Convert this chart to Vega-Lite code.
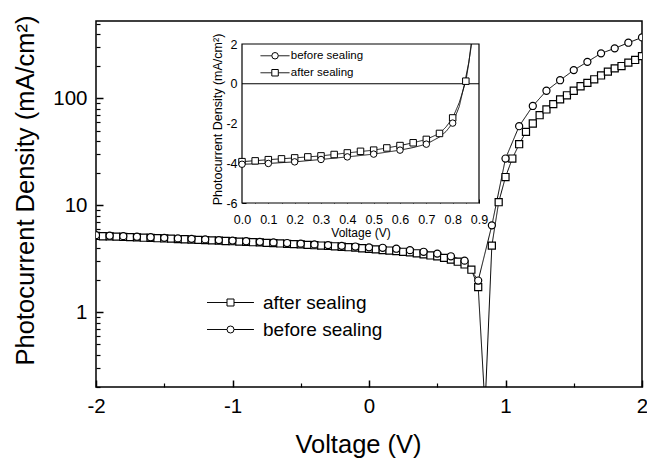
{
 "$schema": "https://vega.github.io/schema/vega-lite/v6.json",
 "width": 546,
 "height": 366,
 "autosize": {"type": "none"},
 "padding": {"left": 96, "top": 21, "right": 5, "bottom": 75},
 "background": "white",
 "config": {
  "font": "Liberation Sans",
  "view": {"stroke": "black", "strokeWidth": 1.5},
  "axis": {"grid": false, "domain": false, "tickColor": "black", "labelColor": "black", "titleColor": "black", "titleFontWeight": "normal", "labelFlush": false, "labelOverlap": false, "labelFont": "Liberation Sans", "titleFont": "Liberation Sans"},
  "legend": {"labelFont": "Liberation Sans", "labelColor": "black", "padding": 0}
 },
 "datasets": {
  "main": [
   {"V": -2.00, "J": 5.17, "series": "after sealing"},
   {"V": -1.95, "J": 5.14, "series": "after sealing"},
   {"V": -1.90, "J": 5.12, "series": "after sealing"},
   {"V": -1.85, "J": 5.10, "series": "after sealing"},
   {"V": -1.80, "J": 5.06, "series": "after sealing"},
   {"V": -1.75, "J": 5.04, "series": "after sealing"},
   {"V": -1.70, "J": 5.02, "series": "after sealing"},
   {"V": -1.65, "J": 4.98, "series": "after sealing"},
   {"V": -1.60, "J": 4.96, "series": "after sealing"},
   {"V": -1.55, "J": 4.93, "series": "after sealing"},
   {"V": -1.50, "J": 4.90, "series": "after sealing"},
   {"V": -1.45, "J": 4.88, "series": "after sealing"},
   {"V": -1.40, "J": 4.84, "series": "after sealing"},
   {"V": -1.35, "J": 4.82, "series": "after sealing"},
   {"V": -1.30, "J": 4.78, "series": "after sealing"},
   {"V": -1.25, "J": 4.76, "series": "after sealing"},
   {"V": -1.20, "J": 4.73, "series": "after sealing"},
   {"V": -1.15, "J": 4.70, "series": "after sealing"},
   {"V": -1.10, "J": 4.68, "series": "after sealing"},
   {"V": -1.05, "J": 4.64, "series": "after sealing"},
   {"V": -1.00, "J": 4.62, "series": "after sealing"},
   {"V": -0.95, "J": 4.58, "series": "after sealing"},
   {"V": -0.90, "J": 4.56, "series": "after sealing"},
   {"V": -0.85, "J": 4.52, "series": "after sealing"},
   {"V": -0.80, "J": 4.50, "series": "after sealing"},
   {"V": -0.75, "J": 4.46, "series": "after sealing"},
   {"V": -0.70, "J": 4.44, "series": "after sealing"},
   {"V": -0.65, "J": 4.40, "series": "after sealing"},
   {"V": -0.60, "J": 4.37, "series": "after sealing"},
   {"V": -0.55, "J": 4.34, "series": "after sealing"},
   {"V": -0.50, "J": 4.31, "series": "after sealing"},
   {"V": -0.45, "J": 4.27, "series": "after sealing"},
   {"V": -0.40, "J": 4.24, "series": "after sealing"},
   {"V": -0.35, "J": 4.21, "series": "after sealing"},
   {"V": -0.30, "J": 4.17, "series": "after sealing"},
   {"V": -0.25, "J": 4.14, "series": "after sealing"},
   {"V": -0.20, "J": 4.10, "series": "after sealing"},
   {"V": -0.15, "J": 4.06, "series": "after sealing"},
   {"V": -0.10, "J": 4.02, "series": "after sealing"},
   {"V": -0.05, "J": 3.97, "series": "after sealing"},
   {"V": 0.00, "J": 3.92, "series": "after sealing"},
   {"V": 0.05, "J": 3.88, "series": "after sealing"},
   {"V": 0.10, "J": 3.82, "series": "after sealing"},
   {"V": 0.15, "J": 3.78, "series": "after sealing"},
   {"V": 0.20, "J": 3.73, "series": "after sealing"},
   {"V": 0.25, "J": 3.68, "series": "after sealing"},
   {"V": 0.30, "J": 3.63, "series": "after sealing"},
   {"V": 0.35, "J": 3.56, "series": "after sealing"},
   {"V": 0.40, "J": 3.48, "series": "after sealing"},
   {"V": 0.45, "J": 3.40, "series": "after sealing"},
   {"V": 0.50, "J": 3.34, "series": "after sealing"},
   {"V": 0.55, "J": 3.23, "series": "after sealing"},
   {"V": 0.60, "J": 3.11, "series": "after sealing"},
   {"V": 0.65, "J": 2.97, "series": "after sealing"},
   {"V": 0.70, "J": 2.80, "series": "after sealing"},
   {"V": 0.75, "J": 2.50, "series": "after sealing"},
   {"V": 0.80, "J": 1.72, "series": "after sealing"},
   {"V": 0.85, "J": 0.13, "series": "after sealing"},
   {"V": 0.90, "J": 4.2, "series": "after sealing"},
   {"V": 0.95, "J": 10.7, "series": "after sealing"},
   {"V": 1.00, "J": 18.4, "series": "after sealing"},
   {"V": 1.05, "J": 27.4, "series": "after sealing"},
   {"V": 1.10, "J": 37.3, "series": "after sealing"},
   {"V": 1.15, "J": 48.7, "series": "after sealing"},
   {"V": 1.20, "J": 58.3, "series": "after sealing"},
   {"V": 1.25, "J": 69.7, "series": "after sealing"},
   {"V": 1.30, "J": 78.9, "series": "after sealing"},
   {"V": 1.35, "J": 88.5, "series": "after sealing"},
   {"V": 1.40, "J": 97.9, "series": "after sealing"},
   {"V": 1.45, "J": 107, "series": "after sealing"},
   {"V": 1.50, "J": 118, "series": "after sealing"},
   {"V": 1.55, "J": 130, "series": "after sealing"},
   {"V": 1.60, "J": 140, "series": "after sealing"},
   {"V": 1.65, "J": 151, "series": "after sealing"},
   {"V": 1.70, "J": 164, "series": "after sealing"},
   {"V": 1.75, "J": 178, "series": "after sealing"},
   {"V": 1.80, "J": 191, "series": "after sealing"},
   {"V": 1.85, "J": 201, "series": "after sealing"},
   {"V": 1.90, "J": 216, "series": "after sealing"},
   {"V": 1.95, "J": 229, "series": "after sealing"},
   {"V": 2.00, "J": 249, "series": "after sealing"},
   {"V": -2.0, "J": 5.26, "series": "before sealing"},
   {"V": -1.9, "J": 5.20, "series": "before sealing"},
   {"V": -1.8, "J": 5.15, "series": "before sealing"},
   {"V": -1.7, "J": 5.09, "series": "before sealing"},
   {"V": -1.6, "J": 5.03, "series": "before sealing"},
   {"V": -1.5, "J": 4.97, "series": "before sealing"},
   {"V": -1.4, "J": 4.91, "series": "before sealing"},
   {"V": -1.3, "J": 4.86, "series": "before sealing"},
   {"V": -1.2, "J": 4.80, "series": "before sealing"},
   {"V": -1.1, "J": 4.73, "series": "before sealing"},
   {"V": -1.0, "J": 4.68, "series": "before sealing"},
   {"V": -0.9, "J": 4.62, "series": "before sealing"},
   {"V": -0.8, "J": 4.56, "series": "before sealing"},
   {"V": -0.7, "J": 4.50, "series": "before sealing"},
   {"V": -0.6, "J": 4.44, "series": "before sealing"},
   {"V": -0.5, "J": 4.38, "series": "before sealing"},
   {"V": -0.4, "J": 4.31, "series": "before sealing"},
   {"V": -0.3, "J": 4.25, "series": "before sealing"},
   {"V": -0.2, "J": 4.18, "series": "before sealing"},
   {"V": -0.1, "J": 4.12, "series": "before sealing"},
   {"V": 0.0, "J": 4.05, "series": "before sealing"},
   {"V": 0.1, "J": 4.01, "series": "before sealing"},
   {"V": 0.2, "J": 3.93, "series": "before sealing"},
   {"V": 0.3, "J": 3.81, "series": "before sealing"},
   {"V": 0.4, "J": 3.68, "series": "before sealing"},
   {"V": 0.5, "J": 3.54, "series": "before sealing"},
   {"V": 0.6, "J": 3.34, "series": "before sealing"},
   {"V": 0.7, "J": 3.04, "series": "before sealing"},
   {"V": 0.8, "J": 1.98, "series": "before sealing"},
   {"V": 0.9, "J": 6.5, "series": "before sealing"},
   {"V": 1.0, "J": 27.4, "series": "before sealing"},
   {"V": 1.1, "J": 55, "series": "before sealing"},
   {"V": 1.2, "J": 85, "series": "before sealing"},
   {"V": 1.3, "J": 118, "series": "before sealing"},
   {"V": 1.4, "J": 148, "series": "before sealing"},
   {"V": 1.5, "J": 184, "series": "before sealing"},
   {"V": 1.6, "J": 220, "series": "before sealing"},
   {"V": 1.7, "J": 264, "series": "before sealing"},
   {"V": 1.8, "J": 294, "series": "before sealing"},
   {"V": 1.9, "J": 332, "series": "before sealing"},
   {"V": 2.0, "J": 372, "series": "before sealing"}
  ],
  "insetPoints": [
   {"V": 0.00, "J": -3.92, "series": "after sealing"},
   {"V": 0.05, "J": -3.88, "series": "after sealing"},
   {"V": 0.10, "J": -3.82, "series": "after sealing"},
   {"V": 0.15, "J": -3.78, "series": "after sealing"},
   {"V": 0.20, "J": -3.73, "series": "after sealing"},
   {"V": 0.25, "J": -3.68, "series": "after sealing"},
   {"V": 0.30, "J": -3.63, "series": "after sealing"},
   {"V": 0.35, "J": -3.56, "series": "after sealing"},
   {"V": 0.40, "J": -3.48, "series": "after sealing"},
   {"V": 0.45, "J": -3.40, "series": "after sealing"},
   {"V": 0.50, "J": -3.34, "series": "after sealing"},
   {"V": 0.55, "J": -3.23, "series": "after sealing"},
   {"V": 0.60, "J": -3.11, "series": "after sealing"},
   {"V": 0.65, "J": -2.97, "series": "after sealing"},
   {"V": 0.70, "J": -2.80, "series": "after sealing"},
   {"V": 0.75, "J": -2.50, "series": "after sealing"},
   {"V": 0.80, "J": -1.72, "series": "after sealing"},
   {"V": 0.85, "J": 0.13, "series": "after sealing"},
   {"V": 0.0, "J": -4.05, "series": "before sealing"},
   {"V": 0.1, "J": -4.01, "series": "before sealing"},
   {"V": 0.2, "J": -3.93, "series": "before sealing"},
   {"V": 0.3, "J": -3.81, "series": "before sealing"},
   {"V": 0.4, "J": -3.68, "series": "before sealing"},
   {"V": 0.5, "J": -3.54, "series": "before sealing"},
   {"V": 0.6, "J": -3.34, "series": "before sealing"},
   {"V": 0.7, "J": -3.04, "series": "before sealing"},
   {"V": 0.8, "J": -1.98, "series": "before sealing"}
  ],
  "insetLine": [
   {"V": 0.00, "J": -3.92, "series": "after sealing"},
   {"V": 0.10, "J": -3.82, "series": "after sealing"},
   {"V": 0.20, "J": -3.73, "series": "after sealing"},
   {"V": 0.30, "J": -3.63, "series": "after sealing"},
   {"V": 0.40, "J": -3.48, "series": "after sealing"},
   {"V": 0.50, "J": -3.34, "series": "after sealing"},
   {"V": 0.55, "J": -3.23, "series": "after sealing"},
   {"V": 0.60, "J": -3.11, "series": "after sealing"},
   {"V": 0.65, "J": -2.97, "series": "after sealing"},
   {"V": 0.70, "J": -2.80, "series": "after sealing"},
   {"V": 0.75, "J": -2.50, "series": "after sealing"},
   {"V": 0.775, "J": -2.17, "series": "after sealing"},
   {"V": 0.80, "J": -1.72, "series": "after sealing"},
   {"V": 0.825, "J": -0.95, "series": "after sealing"},
   {"V": 0.85, "J": 0.13, "series": "after sealing"},
   {"V": 0.862, "J": 1.1, "series": "after sealing"},
   {"V": 0.870, "J": 2.0, "series": "after sealing"},
   {"V": 0.0, "J": -4.05, "series": "before sealing"},
   {"V": 0.1, "J": -4.01, "series": "before sealing"},
   {"V": 0.2, "J": -3.93, "series": "before sealing"},
   {"V": 0.3, "J": -3.81, "series": "before sealing"},
   {"V": 0.4, "J": -3.68, "series": "before sealing"},
   {"V": 0.5, "J": -3.54, "series": "before sealing"},
   {"V": 0.6, "J": -3.34, "series": "before sealing"},
   {"V": 0.65, "J": -3.21, "series": "before sealing"},
   {"V": 0.7, "J": -3.04, "series": "before sealing"},
   {"V": 0.75, "J": -2.68, "series": "before sealing"},
   {"V": 0.775, "J": -2.40, "series": "before sealing"},
   {"V": 0.8, "J": -1.98, "series": "before sealing"},
   {"V": 0.825, "J": -1.15, "series": "before sealing"},
   {"V": 0.845, "J": 0.0, "series": "before sealing"},
   {"V": 0.860, "J": 1.0, "series": "before sealing"},
   {"V": 0.872, "J": 2.0, "series": "before sealing"}
  ],
  "insetFrame": [{"Vmin": 0, "Vmax": 0.9, "Jmin": -6, "Jmax": 2}],
  "insetZero": [{"Vmin": 0, "Vmax": 0.9, "J": 0}]
 },
 "layer": [
  {
   "data": {"name": "main"},
   "layer": [
    {
     "mark": {"type": "line", "color": "black", "strokeWidth": 1, "clip": true},
     "encoding": {
      "x": {"field": "V", "type": "quantitative", "scale": {"domain": [-2, 2], "nice": false, "zero": false},
            "axis": {"orient": "bottom", "values": [-2, -1, 0, 1, 2], "labelExpr": "'' + datum.value", "labelFontSize": 20.5, "tickSize": -7, "tickWidth": 1.5, "labelPadding": 16, "title": "Voltage (V)", "titleFontSize": 25.5, "titleX": 262, "titleY": 57, "titleBaseline": "middle"}},
      "y": {"field": "J", "type": "quantitative", "scale": {"type": "log", "domain": [0.2, 530], "nice": false},
            "axis": {"orient": "left", "values": [1, 10, 100], "labelExpr": "'' + datum.value", "labelFontSize": 20.5, "tickSize": -7, "tickWidth": 1.5, "labelPadding": 16, "title": "Photocurrent Density (mA/cm²)", "titleFontSize": 25.5, "titleLimit": 2000, "titleX": -71, "titleY": 169, "titleBaseline": "middle", "titleAngle": 270}},
      "strokeDash": {"field": "series", "type": "nominal", "sort": "ascending", "scale": {"range": [[1, 0], [1, 0]]},
                     "legend": {"orient": "none", "legendX": 125, "legendY": 272, "title": null, "labelFontSize": 19, "labelExpr": "' '", "labelOffset": 23, "rowPadding": 7, "symbolType": "M-6.7,0H-1M1,0H6.7", "symbolSize": 49, "symbolStrokeWidth": 1, "symbolStrokeColor": "black", "symbolOpacity": 1}}
     }
    },
    {
     "mark": {"type": "point", "filled": true, "fill": "white", "stroke": "black", "strokeWidth": 1.2, "size": 50, "opacity": 1, "clip": true},
     "encoding": {
      "x": {"field": "V", "type": "quantitative", "scale": {"domain": [-2, 2], "nice": false, "zero": false},
            "axis": {"orient": "bottom", "values": [-1.5, -0.5, 0.5, 1.5], "labels": false, "tickSize": -4, "tickWidth": 1.2, "title": null}},
      "y": {"field": "J", "type": "quantitative", "scale": {"type": "log", "domain": [0.2, 530], "nice": false},
            "axis": {"orient": "left", "values": [0.2, 0.3, 0.4, 0.5, 0.6, 0.7, 0.8, 0.9, 2, 3, 4, 5, 6, 7, 8, 9, 20, 30, 40, 50, 60, 70, 80, 90, 200, 300, 400, 500], "labels": false, "tickSize": -4, "tickWidth": 1.2, "title": null}},
      "shape": {"field": "series", "type": "nominal", "scale": {"domain": ["after sealing", "before sealing"], "range": ["square", "circle"]},
                "legend": {"orient": "none", "legendX": 125, "legendY": 272, "title": null, "labelFontSize": 19, "labelOffset": 23, "rowPadding": 7, "symbolSize": 49, "symbolStrokeWidth": 1, "symbolStrokeColor": "black", "symbolFillColor": "white",
                           "encoding": {"symbols": {"fill": {"value": "white"}, "stroke": {"value": "black"}, "strokeWidth": {"value": 1}, "opacity": {"value": 1}}}}}
     }
    }
   ],
   "resolve": {"axis": {"x": "independent", "y": "independent"}, "scale": {"shape": "independent", "strokeDash": "independent"}, "legend": {"shape": "independent", "strokeDash": "independent"}}
  },
  {
   "layer": [
    {
     "data": {"name": "insetFrame"},
     "mark": {"type": "rect", "fill": "white", "stroke": "black", "strokeWidth": 1.2},
     "encoding": {
      "x": {"field": "Vmin", "type": "quantitative", "scale": {"domain": [0, 0.9], "range": [146, 383], "nice": false, "zero": false}, "axis": null},
      "x2": {"field": "Vmax"},
      "y": {"field": "Jmin", "type": "quantitative", "scale": {"domain": [-6, 2], "range": [182, 23], "nice": false, "zero": false}, "axis": null},
      "y2": {"field": "Jmax"}
     }
    },
    {
     "data": {"name": "insetZero"},
     "mark": {"type": "rule", "color": "black", "strokeWidth": 1},
     "encoding": {
      "x": {"field": "Vmin", "type": "quantitative", "scale": {"domain": [0, 0.9], "range": [146, 383], "nice": false, "zero": false}, "axis": null},
      "x2": {"field": "Vmax"},
      "y": {"field": "J", "type": "quantitative", "scale": {"domain": [-6, 2], "range": [182, 23], "nice": false, "zero": false}, "axis": null}
     }
    },
    {
     "data": {"name": "insetLine"},
     "mark": {"type": "line", "color": "black", "strokeWidth": 0.9},
     "encoding": {
      "x": {"field": "V", "type": "quantitative", "scale": {"domain": [0, 0.9], "range": [146, 383], "nice": false, "zero": false},
            "axis": {"orient": "bottom", "offset": -184, "values": [0, 0.1, 0.2, 0.3, 0.4, 0.5, 0.6, 0.7, 0.8, 0.9], "labelExpr": "format(datum.value, '.1f')", "labelFontSize": 12.5, "tickSize": -4, "tickWidth": 1, "labelPadding": 14.5, "title": "Voltage (V)", "titleFontSize": 12, "titleY": 29, "titleBaseline": "middle"}},
      "y": {"field": "J", "type": "quantitative", "scale": {"domain": [-6, 2], "range": [182, 23], "nice": false, "zero": false},
            "axis": {"orient": "left", "offset": -146, "values": [-6, -4, -2, 0, 2], "labelExpr": "'' + datum.value", "labelFontSize": 12.5, "tickSize": -4, "tickWidth": 1, "labelPadding": 9, "title": "Photocurrent Density (mA/cm²)", "titleFontSize": 12.5, "titleLimit": 2000, "titleX": -25, "titleY": 98, "titleBaseline": "middle", "titleAngle": 270}},
      "strokeDash": {"field": "series", "type": "nominal", "sort": "descending", "scale": {"range": [[1, 0], [1, 0]]},
                     "legend": {"orient": "none", "legendX": 173.3, "legendY": 29, "title": null, "labelFontSize": 11.5, "labelExpr": "' '", "labelOffset": 10, "rowPadding": 4, "symbolType": "M-4.48,0H-1M1,0H4.48", "symbolSize": 42, "symbolStrokeWidth": 1, "symbolStrokeColor": "black", "symbolOpacity": 1}}
     }
    },
    {
     "data": {"name": "insetPoints"},
     "mark": {"type": "point", "filled": true, "fill": "white", "stroke": "black", "strokeWidth": 1, "size": 42, "opacity": 1},
     "encoding": {
      "x": {"field": "V", "type": "quantitative", "scale": {"domain": [0, 0.9], "range": [146, 383], "nice": false, "zero": false},
            "axis": {"orient": "bottom", "offset": -184, "values": [0.05, 0.15, 0.25, 0.35, 0.45, 0.55, 0.65, 0.75, 0.85], "labels": false, "tickSize": -2.5, "tickWidth": 1, "title": null}},
      "y": {"field": "J", "type": "quantitative", "scale": {"domain": [-6, 2], "range": [182, 23], "nice": false, "zero": false},
            "axis": {"orient": "left", "offset": -146, "values": [-5, -3, -1, 1], "labels": false, "tickSize": -2.5, "tickWidth": 1, "title": null}},
      "shape": {"field": "series", "type": "nominal", "scale": {"domain": ["before sealing", "after sealing"], "range": ["circle", "square"]},
                "legend": {"orient": "none", "legendX": 173.3, "legendY": 29, "title": null, "labelFontSize": 11.5, "labelOffset": 10, "rowPadding": 4, "symbolSize": 42, "symbolStrokeWidth": 1, "symbolStrokeColor": "black", "symbolFillColor": "white",
                           "encoding": {"symbols": {"fill": {"value": "white"}, "stroke": {"value": "black"}, "strokeWidth": {"value": 1}, "opacity": {"value": 1}}}}}
     }
    }
   ],
   "resolve": {"axis": {"x": "independent", "y": "independent"}, "scale": {"shape": "independent", "strokeDash": "independent"}, "legend": {"shape": "independent", "strokeDash": "independent"}}
  }
 ],
 "resolve": {"scale": {"x": "independent", "y": "independent", "shape": "independent", "strokeDash": "independent"}, "legend": {"shape": "independent", "strokeDash": "independent"}}
}
